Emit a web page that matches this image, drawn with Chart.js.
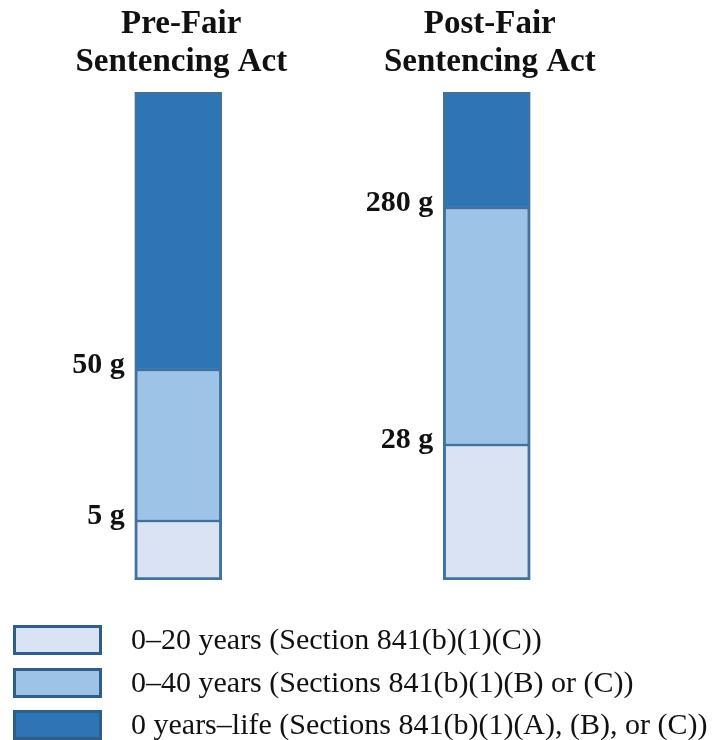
<!DOCTYPE html>
<html>
<head>
<meta charset="utf-8">
<script src="https://cdn.jsdelivr.net/npm/chart.js@4/dist/chart.umd.min.js"></script>
<style>
  html, body { margin: 0; padding: 0; background: #ffffff; }
  #wrap { position: relative; width: 714px; height: 740px; }
  #chartBox { position: absolute; left: 0; top: 0; width: 714px; height: 600px; }
  #legend { position: absolute; left: 0; top: 0; width: 714px; height: 740px; pointer-events: none; }
  .lg-box { position: absolute; left: 13px; width: 83px; height: 24px; border: 3px solid #2F5D8C; }
  .lg-text { position: absolute; left: 131px; font-family: "Liberation Serif", "Times New Roman", serif; font-size: 30px; color: #111; white-space: nowrap; line-height: 30px; }
</style>
</head>
<body>
<div id="wrap">
  <div id="chartBox"><canvas id="c"></canvas></div>
  <div id="legend"></div>
</div>
<script>
// Categories (bar titles, two lines each)
const categories = [["Pre-Fair", "Sentencing Act"], ["Post-Fair", "Sentencing Act"]];
// Series: schematic segment heights (bottom to top)
const seriesNames = [
  "0\u201320 years (Section 841(b)(1)(C))",
  "0\u201340 years (Sections 841(b)(1)(B) or (C))",
  "0 years\u2013life (Sections 841(b)(1)(A), (B), or (C))"
];
const lowTier  = [59, 135];
const midTier  = [151, 237];
const highTier = [278, 116];
// Threshold labels at the top of the low and mid segments of each bar
const lowThresholdLabels = ["5 g", "28 g"];
const midThresholdLabels = ["50 g", "280 g"];

const fills = ["#DAE3F3", "#9DC3E6", "#2E75B6"];
const barBorder = "#41719C";
const borderWidths = [
  { top: 1.5, bottom: 3, left: 3, right: 3 },
  { top: 1.5, bottom: 1.5, left: 3, right: 3 },
  { top: 3, bottom: 1.5, left: 3, right: 3 }
];

const titlesPlugin = {
  id: "titlesAndThresholds",
  afterDatasetsDraw(chart) {
    const ctx = chart.ctx;
    const x = chart.scales.x, y = chart.scales.y;
    ctx.save();
    ctx.fillStyle = "#111";
    // Titles
    ctx.font = "bold 33px 'Liberation Serif', serif";
    ctx.textAlign = "center";
    ctx.textBaseline = "alphabetic";
    categories.forEach((lines, i) => {
      const cx = x.getPixelForValue(i) + 3;
      ctx.fillText(lines[0], cx, 33);
      ctx.fillText(lines[1], cx, 71);
    });
    // Thresholds
    ctx.font = "bold 30px 'Liberation Serif', serif";
    ctx.textAlign = "right";
    const meta = chart.getDatasetMeta(0);
    categories.forEach((lines, i) => {
      const bar = meta.data[i];
      const left = bar.x - bar.width / 2 - 10;
      const yLow = y.getPixelForValue(lowTier[i]);
      const yMid = y.getPixelForValue(lowTier[i] + midTier[i]);
      ctx.fillText(lowThresholdLabels[i], left, yLow + 3);
      ctx.fillText(midThresholdLabels[i], left, yMid + 3);
    });
    ctx.restore();
  }
};

const tiers = [lowTier, midTier, highTier];
const chart = new Chart(document.getElementById("c"), {
  type: "bar",
  data: {
    labels: categories.map(l => l.join(" ")),
    datasets: tiers.map((d, k) => ({
      label: seriesNames[k],
      data: d,
      backgroundColor: fills[k],
      borderColor: barBorder,
      borderWidth: borderWidths[k],
      borderSkipped: false,
      barThickness: 87
    }))
  },
  options: {
    responsive: true,
    maintainAspectRatio: false,
    animation: false,
    layout: { padding: { left: 24, right: 73, top: 92, bottom: 20 } },
    plugins: { legend: { display: false }, tooltip: { enabled: false } },
    scales: {
      x: { stacked: true, display: false, offset: true },
      y: { stacked: true, display: false, min: 0, max: 488 }
    }
  },
  plugins: [titlesPlugin]
});

// HTML legend built from the chart's datasets
const legendTops = [625, 668, 710];
const lg = document.getElementById("legend");
chart.data.datasets.forEach((ds, k) => {
  const b = document.createElement("div");
  b.className = "lg-box";
  b.style.top = legendTops[k] + "px";
  b.style.background = ds.backgroundColor;
  lg.appendChild(b);
  const t = document.createElement("div");
  t.className = "lg-text";
  t.style.top = (legendTops[k] - 1) + "px";
  t.textContent = ds.label;
  lg.appendChild(t);
});
</script>
</body>
</html>
